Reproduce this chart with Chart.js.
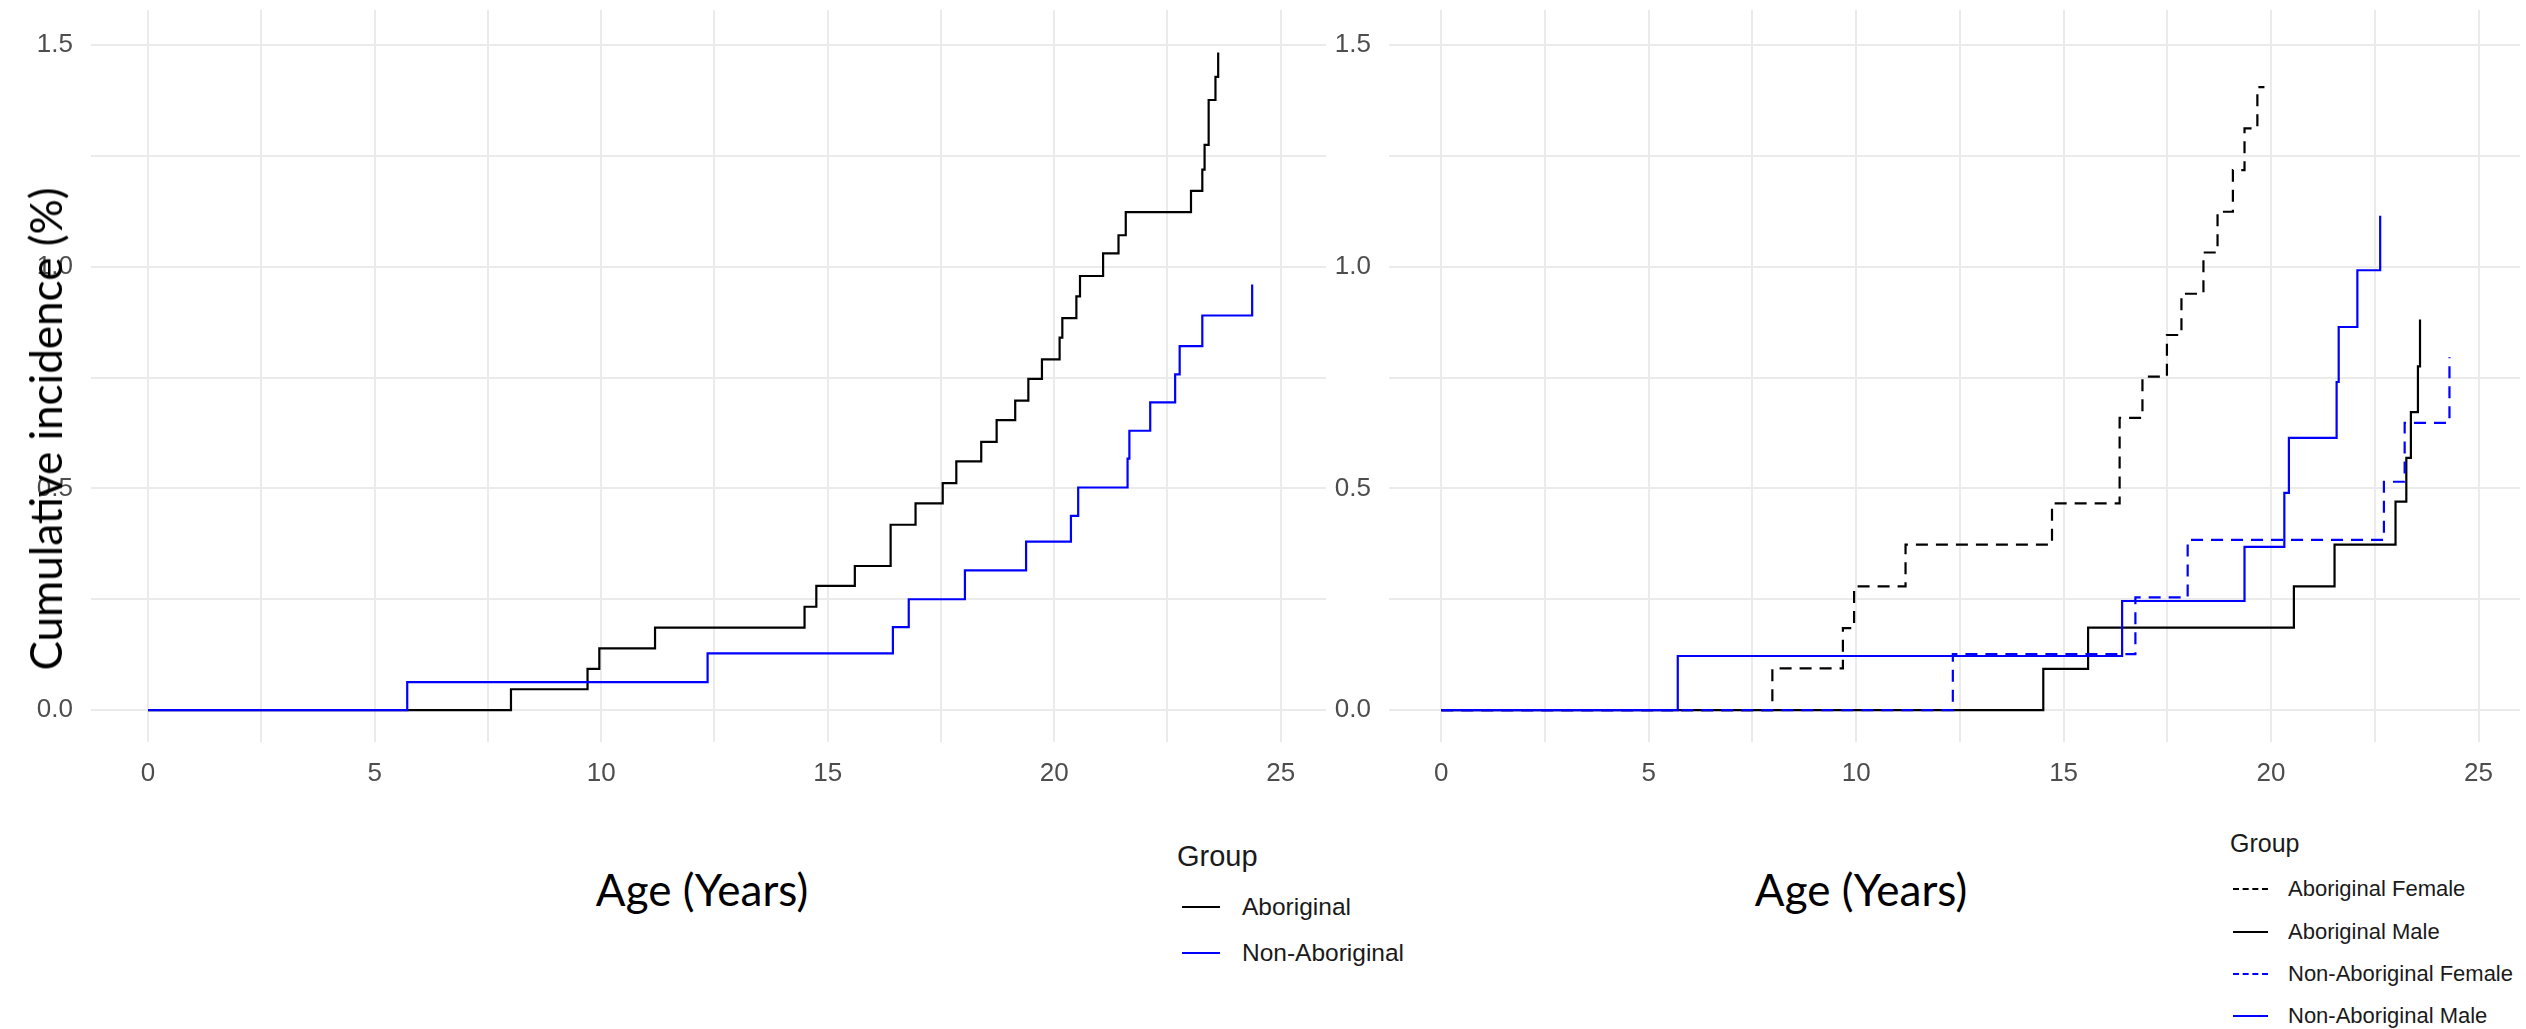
<!DOCTYPE html>
<html>
<head>
<meta charset="utf-8">
<script src="https://cdn.jsdelivr.net/npm/chart.js@4.4.1/dist/chart.umd.min.js"></script>
<style>
  html, body { margin: 0; padding: 0; background: #ffffff; }
  body { width: 2526px; height: 1029px; position: relative; overflow: hidden; }
  canvas { position: absolute; top: 0; }
  .t { position: absolute; white-space: nowrap; color: #000; }
  .axt { font-family: Lato, "Open Sans", sans-serif; font-size: 44px; line-height: 1; }
  .leg { font-family: "Liberation Sans", Arial, sans-serif; color: #1a1a1a; }
  .sw { position: absolute; height: 0; }
</style>
</head>
<body>
<canvas id="left" width="1332" height="800" style="left:0px"></canvas>
<canvas id="right" width="1194" height="800" style="left:1332px"></canvas>

<div class="t axt" id="ytitle" style="left:45px; top:429px; transform: translate(-50%,-50%) rotate(-90deg);">Cumulative incidence (%)</div>
<div class="t axt" style="left:702px; top:867px; transform: translateX(-50%);">Age (Years)</div>
<div class="t axt" style="left:1861px; top:867px; transform: translateX(-50%);">Age (Years)</div>

<div id="legL"></div>
<div id="legR"></div>

<script>
// ---------- Data ----------
// Left panel: Aboriginal vs Non-Aboriginal
const leftGroups = ["Aboriginal", "Non-Aboriginal"];
const aboAge = [0, 8.01, 9.70, 9.96, 11.19, 14.49, 14.75, 15.60, 16.39, 16.94, 17.54, 17.84, 18.39, 18.73, 19.14, 19.43, 19.73, 20.12, 20.18, 20.49, 20.57, 21.08, 21.42, 21.58, 23.02, 23.27, 23.32, 23.41, 23.56, 23.62];
const aboInc = [0, 0.047, 0.093, 0.139, 0.186, 0.233, 0.280, 0.325, 0.418, 0.466, 0.512, 0.561, 0.605, 0.654, 0.698, 0.747, 0.791, 0.840, 0.884, 0.933, 0.979, 1.030, 1.071, 1.123, 1.171, 1.219, 1.275, 1.376, 1.428, 1.483];
const nonAboAge = [0, 5.72, 12.35, 16.44, 16.79, 18.03, 19.38, 20.37, 20.53, 21.62, 21.66, 22.12, 22.67, 22.77, 23.27, 24.37];
const nonAboInc = [0, 0.063, 0.128, 0.187, 0.250, 0.315, 0.380, 0.438, 0.502, 0.567, 0.630, 0.694, 0.757, 0.821, 0.890, 0.960];

// Right panel: by group and sex
const rightGroups = ["Aboriginal Female", "Aboriginal Male", "Non-Aboriginal Female", "Non-Aboriginal Male"];
const abfAge = [0, 7.98, 9.68, 9.95, 11.19, 14.72, 16.35, 16.90, 17.49, 17.84, 18.37, 18.71, 19.08, 19.36, 19.67, 19.84];
const abfInc = [0, 0.094, 0.185, 0.279, 0.373, 0.466, 0.659, 0.752, 0.846, 0.939, 1.032, 1.124, 1.218, 1.312, 1.405, 1.405];
const abmAge = [0, 14.51, 15.59, 20.55, 21.53, 23.00, 23.26, 23.37, 23.54, 23.59];
const abmInc = [0, 0.093, 0.186, 0.279, 0.373, 0.470, 0.569, 0.672, 0.775, 0.881];
const nafAge = [0, 12.33, 16.73, 17.99, 22.72, 23.22, 24.30];
const nafInc = [0, 0.126, 0.254, 0.384, 0.515, 0.648, 0.796];
const namAge = [0, 5.70, 16.41, 19.36, 20.32, 20.43, 21.58, 21.63, 22.08, 22.63];
const namInc = [0, 0.122, 0.246, 0.368, 0.490, 0.614, 0.740, 0.864, 0.992, 1.115];

// Axis ticks
const xTickLabels = [0, 5, 10, 15, 20, 25];
const yTickLabels = [0.0, 0.5, 1.0, 1.5];

// ---------- Styles ----------
const BLACK = "#000000", BLUE = "#0000FF";
const DASH = [12, 8];

function pts(xs, ys) { return xs.map((x, i) => ({ x: x, y: ys[i] })); }

function ds(label, xs, ys, color, dashed, order) {
  return {
    label: label, data: pts(xs, ys), borderColor: color, backgroundColor: color,
    borderWidth: 2.2, borderDash: dashed ? DASH : [], pointRadius: 0, pointHoverRadius: 0,
    stepped: 'before', fill: false, tension: 0, order: order
  };
}

const near = (a, b) => Math.abs(a - b) < 1e-6;

function makeOptions(yAxisWidth, rightPad) {
  return {
    responsive: false, animation: false, devicePixelRatio: 1,
    layout: { padding: { top: 10, right: rightPad, bottom: 0, left: 0 } },
    plugins: { legend: { display: false }, tooltip: { enabled: false }, title: { display: false } },
    events: [],
    scales: {
      x: {
        type: 'linear', min: -1.26, max: 26,
        grid: { color: '#EBEBEB', lineWidth: 2, drawTicks: false },
        border: { display: false },
        ticks: {
          stepSize: 2.5, includeBounds: false, autoSkip: false, maxRotation: 0, minRotation: 0,
          padding: 16, color: '#4D4D4D',
          font: { family: '"Liberation Sans", Arial, sans-serif', size: 26 },
          callback: (v) => xTickLabels.some(t => near(t, v)) ? String(Math.round(v)) : ''
        },
        afterFit: (s) => { s.height = 58; }
      },
      y: {
        type: 'linear', min: -0.072, max: 1.579,
        grid: { color: '#EBEBEB', lineWidth: 2, drawTicks: false },
        border: { display: false },
        ticks: {
          stepSize: 0.25, includeBounds: false, autoSkip: false,
          padding: 18, color: '#4D4D4D',
          font: { family: '"Liberation Sans", Arial, sans-serif', size: 26, lineHeight: 0.5 },
          callback: (v) => yTickLabels.some(t => near(t, v)) ? v.toFixed(1) : ''
        },
        afterFit: (s) => { s.width = yAxisWidth; s.paddingTop = 0; s.paddingBottom = 0; }
      }
    }
  };
}

new Chart(document.getElementById('left'), {
  type: 'line',
  data: {
    datasets: [
      ds(leftGroups[0], aboAge, aboInc, BLACK, false, 1),
      ds(leftGroups[1], nonAboAge, nonAboInc, BLUE, false, 0)
    ]
  },
  options: makeOptions(91, 6)
});

new Chart(document.getElementById('right'), {
  type: 'line',
  data: {
    datasets: [
      ds(rightGroups[0], abfAge, abfInc, BLACK, true, 3),
      ds(rightGroups[1], abmAge, abmInc, BLACK, false, 2),
      ds(rightGroups[2], nafAge, nafInc, BLUE, true, 1),
      ds(rightGroups[3], namAge, namInc, BLUE, false, 0)
    ]
  },
  options: makeOptions(57, 6)
});

// ---------- Legends (HTML text) ----------
function buildLegend(el, cfg) {
  const title = document.createElement('div');
  title.className = 't leg';
  title.textContent = 'Group';
  title.style.left = cfg.x + 'px';
  title.style.top = cfg.titleY + 'px';
  title.style.fontSize = cfg.titleSize + 'px';
  title.style.lineHeight = '1';
  title.style.transform = 'translateY(-50%)';
  el.appendChild(title);
  cfg.items.forEach((it, i) => {
    const y = cfg.rowY[i];
    const sw = document.createElement('div');
    sw.className = 'sw';
    sw.style.left = cfg.swX + 'px';
    sw.style.top = (y - 1) + 'px';
    sw.style.width = cfg.swW + 'px';
    sw.style.borderTop = '2px ' + (it.dashed ? 'dashed ' : 'solid ') + it.color;
    el.appendChild(sw);
    const tx = document.createElement('div');
    tx.className = 't leg';
    tx.textContent = it.label;
    tx.style.left = cfg.textX + 'px';
    tx.style.top = y + 'px';
    tx.style.fontSize = cfg.size + 'px';
    tx.style.lineHeight = '1';
    tx.style.transform = 'translateY(-50%)';
    el.appendChild(tx);
  });
}

buildLegend(document.getElementById('legL'), {
  x: 1177, titleY: 856, titleSize: 29, size: 24.5, swX: 1182, swW: 38, textX: 1242,
  rowY: [907, 953],
  items: [
    { label: leftGroups[0], color: BLACK, dashed: false },
    { label: leftGroups[1], color: BLUE, dashed: false }
  ]
});

buildLegend(document.getElementById('legR'), {
  x: 2230, titleY: 843, titleSize: 25, size: 22, swX: 2233, swW: 35, textX: 2288,
  rowY: [889, 932, 974, 1016],
  items: [
    { label: rightGroups[0], color: BLACK, dashed: true },
    { label: rightGroups[1], color: BLACK, dashed: false },
    { label: rightGroups[2], color: BLUE, dashed: true },
    { label: rightGroups[3], color: BLUE, dashed: false }
  ]
});
</script>
</body>
</html>
